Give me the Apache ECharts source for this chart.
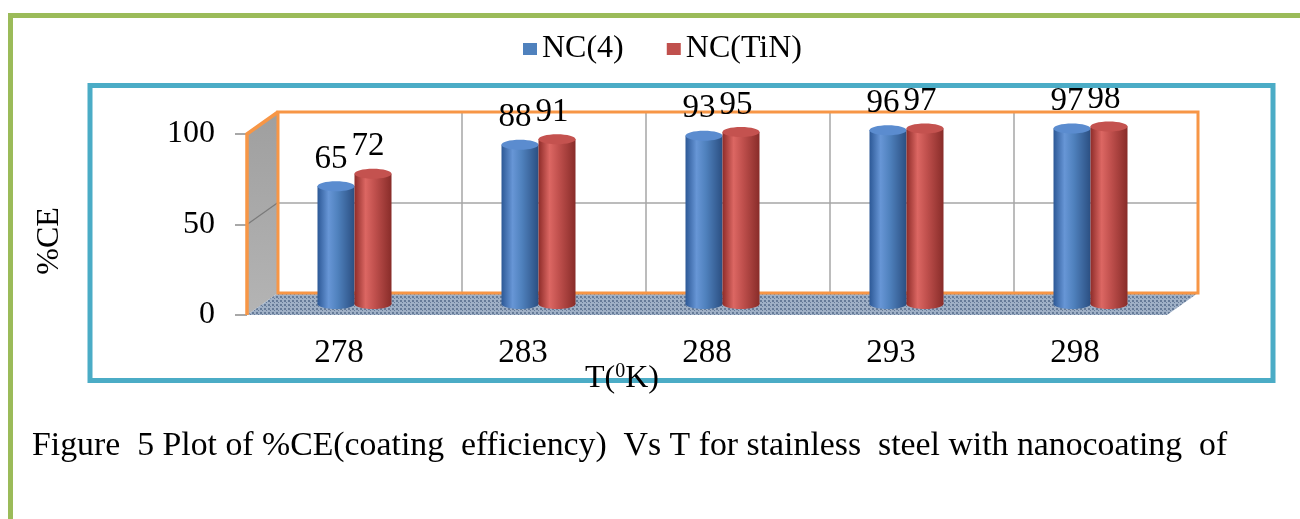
<!DOCTYPE html>
<html>
<head>
<meta charset="utf-8">
<script src="https://cdn.jsdelivr.net/npm/echarts@6/dist/echarts.min.js"></script>
<style>
  html, body { margin: 0; padding: 0; background: #fff; }
  #chart { width: 1300px; height: 519px; }
</style>
</head>
<body>
<div id="chart"></div>
<script>
const temps = ['278', '283', '288', '293', '298'];
const nc4 = [65, 88, 93, 96, 97];
const ncTiN = [72, 91, 95, 97, 98];
const yTicks = [0, 50, 100];

// fake 3D box: front plane and offset to back wall
const FRONT_X = 247, FRONT_Y = 315, PLOT_W = 920, PLOT_H = 181;
const DEPTH_X = 31, DEPTH_Y = 22;
const BAR_W = 37;
const FONT = '"Liberation Serif", "Times New Roman", serif';

const yMin = yTicks[0], yMax = yTicks[yTicks.length - 1];
const yStep = yTicks[1] - yTicks[0];

function gridAt(depth) {
  return {
    left: FRONT_X + DEPTH_X * depth,
    top: FRONT_Y - DEPTH_Y * depth - PLOT_H,
    width: PLOT_W,
    height: PLOT_H
  };
}
function yFront(v) { return FRONT_Y - (v - yMin) / (yMax - yMin) * PLOT_H; }
function yMid() { return (yMin + yMax) / 2; }

// dotted texture for the floor
const dots = document.createElement('canvas');
dots.width = 4; dots.height = 4;
const dctx = dots.getContext('2d');
dctx.fillStyle = '#9fb0c6';
dctx.fillRect(0, 0, 4, 4);
dctx.fillStyle = '#667b98';
dctx.fillRect(0, 0, 2, 2);
dctx.fillRect(2, 2, 1, 1);

function cylinder(side, stops, cap) {
  return function (params, api) {
    const top = api.coord([api.value(0), api.value(1)]);
    const base = api.coord([api.value(0), 0]);
    const rx = BAR_W / 2, ry = 5;
    const cx = top[0] + side * rx;
    return {
      type: 'group',
      children: [
        { type: 'ellipse', shape: { cx: cx, cy: base[1], rx: rx, ry: ry },
          style: { fill: new echarts.graphic.LinearGradient(0, 0, 1, 0, stops) } },
        { type: 'rect', shape: { x: cx - rx, y: top[1], width: BAR_W, height: base[1] - top[1] },
          style: { fill: new echarts.graphic.LinearGradient(0, 0, 1, 0, stops) } },
        { type: 'ellipse', shape: { cx: cx, cy: top[1], rx: rx, ry: ry },
          style: { fill: cap } },
        { type: 'text', x: cx - 5, y: top[1] - 27,
          style: { text: String(api.value(1)), fill: '#000', font: '33px ' + FONT,
                   align: 'center', verticalAlign: 'middle' } }
      ]
    };
  };
}

const blueStops = [
  { offset: 0, color: '#2c5896' }, { offset: 0.3, color: '#6796d6' },
  { offset: 0.55, color: '#4f81bd' }, { offset: 1, color: '#2b4f82' }
];
const redStops = [
  { offset: 0, color: '#8e2c29' }, { offset: 0.3, color: '#dc6763' },
  { offset: 0.55, color: '#c0504d' }, { offset: 1, color: '#882c29' }
];

const chart = echarts.init(document.getElementById('chart'));

const front = gridAt(0), back = gridAt(1);
const fx0 = front.left, fx1 = front.left + PLOT_W;
const bx0 = back.left, bx1 = back.left + PLOT_W;

chart.setOption({
  animation: false,
  color: ['#4F81BD', '#C0504D'],
  title: {
    text: 'Figure  5 Plot of %CE(coating  efficiency)  Vs T for stainless  steel with nanocoating  of',
    left: 32, top: 429, padding: 0,
    textStyle: { fontFamily: FONT, fontSize: 33.8, fontWeight: 'normal', color: '#000' }
  },
  legend: {
    data: ['NC(4)', 'NC(TiN)'],
    left: 518, top: 28,
    icon: 'rect', itemWidth: 14, itemHeight: 12, itemGap: 43,
    textStyle: { fontFamily: FONT, fontSize: 32, color: '#000' }
  },
  grid: [gridAt(0), gridAt(0.5), gridAt(1)],
  xAxis: [
    { gridIndex: 0, type: 'category', data: temps,
      axisLine: { show: false }, axisTick: { show: false },
      axisLabel: { fontFamily: FONT, fontSize: 33, color: '#000', margin: 22 } },
    { gridIndex: 1, type: 'category', data: temps, show: false },
    { gridIndex: 2, type: 'category', data: temps,
      axisLine: { show: false }, axisTick: { show: false }, axisLabel: { show: false },
      splitLine: { show: true, lineStyle: {
        color: ['transparent', '#a6a6a6', '#a6a6a6', '#a6a6a6', '#a6a6a6', 'transparent'], width: 1.5 } } }
  ],
  yAxis: [
    { gridIndex: 0, type: 'value', min: yMin, max: yMax, interval: yStep,
      axisLine: { show: false },
      axisTick: { show: true, length: 12, lineStyle: { color: '#8c8c8c', width: 1.5 } },
      axisLabel: { fontFamily: FONT, fontSize: 32, color: '#000', margin: 32 },
      splitLine: { show: false } },
    { gridIndex: 1, type: 'value', min: yMin, max: yMax, show: false },
    { gridIndex: 2, type: 'value', min: yMin, max: yMax, interval: yStep,
      axisLine: { show: false }, axisTick: { show: false }, axisLabel: { show: false },
      splitLine: { show: true, lineStyle: { color: ['transparent', '#a6a6a6', 'transparent'], width: 1.5 } } }
  ],
  series: [
    { name: 'NC(4)', type: 'custom', xAxisIndex: 1, yAxisIndex: 1, z: 5,
      itemStyle: { color: '#4F81BD' },
      renderItem: cylinder(-1, blueStops, '#5b8ccf'),
      data: nc4.map((v, i) => [i, v]) },
    { name: 'NC(TiN)', type: 'custom', xAxisIndex: 1, yAxisIndex: 1, z: 5,
      itemStyle: { color: '#C0504D' },
      renderItem: cylinder(1, redStops, '#c4524f'),
      data: ncTiN.map((v, i) => [i, v]) }
  ],
  graphic: [
    // outer green frame
    { type: 'rect', z: 6, shape: { x: 10.5, y: 15.5, width: 1400, height: 700 },
      style: { fill: 'none', stroke: '#9BBB59', lineWidth: 5 } },
    // chart area frame
    { type: 'rect', z: 6, shape: { x: 90, y: 85.5, width: 1183, height: 295 },
      style: { fill: 'none', stroke: '#4BACC6', lineWidth: 5 } },
    // left side wall
    { type: 'polygon', z: 1,
      shape: { points: [[fx0, yFront(yMax)], [bx0, yFront(yMax) - DEPTH_Y], [bx0, FRONT_Y - DEPTH_Y], [fx0, FRONT_Y]] },
      style: { fill: new echarts.graphic.LinearGradient(0, 0, 0, 1, [
        { offset: 0, color: '#9f9f9f' }, { offset: 1, color: '#b4b4b4' }]) } },
    { type: 'polyline', z: 2,
      shape: { points: [[fx0, yFront(yMid())], [bx0, yFront(yMid()) - DEPTH_Y]] },
      style: { stroke: '#7a7a7a', lineWidth: 1.2 } },
    // floor
    { type: 'polygon', z: 1,
      shape: { points: [[fx0, FRONT_Y], [fx1, FRONT_Y], [bx1, FRONT_Y - DEPTH_Y], [bx0, FRONT_Y - DEPTH_Y]] },
      style: { fill: { image: dots, repeat: 'repeat' } } },
    // orange edges
    { type: 'rect', z: 2, shape: { x: bx0, y: back.top, width: PLOT_W, height: PLOT_H },
      style: { fill: 'none', stroke: '#F79646', lineWidth: 3 } },
    { type: 'polyline', z: 2,
      shape: { points: [[fx0, FRONT_Y], [fx0, yFront(yMax)], [bx0, back.top]] },
      style: { stroke: '#F79646', lineWidth: 3.5 } },
    // axis names
    { type: 'text', z: 7, x: 50, y: 241, rotation: Math.PI / 2,
      style: { text: '%CE', font: '32px ' + FONT, fill: '#000', align: 'center', verticalAlign: 'middle' } },
    { type: 'text', z: 7, x: 622, y: 379,
      style: { text: '{a|T(}{s|0}{a|K)}', align: 'center', verticalAlign: 'middle', fill: '#000',
        rich: {
          a: { fontFamily: FONT, fontSize: 32, lineHeight: 34 },
          s: { fontFamily: FONT, fontSize: 20, verticalAlign: 'top', lineHeight: 34 }
        } } }
  ]
});
</script>
</body>
</html>
